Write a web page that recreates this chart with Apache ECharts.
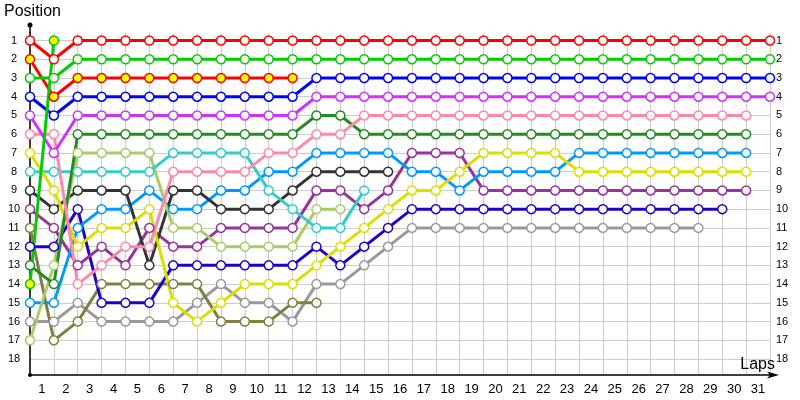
<!DOCTYPE html>
<html>
	<head>
		<meta charset="utf-8">
		<title>Lap chart</title>
		<script src="https://cdn.jsdelivr.net/npm/echarts@6/dist/echarts.min.js" type="text/javascript" charset="utf-8"></script>
		<style>
			html, body { margin: 0; padding: 0; background: #fff; }
		</style>
	</head>
	<body>
		<div id="main" style="width: 800px;height:400px;"></div>
		<script type="text/javascript">
			// lap labels under the x axis (placed between the grid lines)
			var lapLabels = ['1', '2', '3', '4', '5', '6', '7', '8', '9', '10', '11', '12', '13', '14', '15', '16',
				'17', '18', '19', '20', '21', '22', '23', '24', '25', '26', '27', '28', '29', '30', '31'];
			var positionLabels = [1, 2, 3, 4, 5, 6, 7, 8, 9, 10, 11, 12, 13, 14, 15, 16, 17, 18];

			// position of each car after every lap (index 0 = start grid)
			var red = [1, 2, 1, 1, 1, 1, 1, 1, 1, 1, 1, 1, 1, 1, 1, 1, 1, 1, 1, 1, 1, 1, 1, 1, 1, 1, 1, 1, 1, 1, 1, 1];
			var redYellow = [2, 4, 3, 3, 3, 3, 3, 3, 3, 3, 3, 3];
			var green = [3, 3, 2, 2, 2, 2, 2, 2, 2, 2, 2, 2, 2, 2, 2, 2, 2, 2, 2, 2, 2, 2, 2, 2, 2, 2, 2, 2, 2, 2, 2, 2];
			var greenYellow = [14, 1];
			var blue = [4, 5, 4, 4, 4, 4, 4, 4, 4, 4, 4, 4, 3, 3, 3, 3, 3, 3, 3, 3, 3, 3, 3, 3, 3, 3, 3, 3, 3, 3, 3, 3];
			var violet = [5, 7, 5, 5, 5, 5, 5, 5, 5, 5, 5, 5, 4, 4, 4, 4, 4, 4, 4, 4, 4, 4, 4, 4, 4, 4, 4, 4, 4, 4, 4, 4];
			var pink = [6, 6, 14, 13, 12, 12, 8, 8, 8, 8, 7, 7, 6, 6, 5, 5, 5, 5, 5, 5, 5, 5, 5, 5, 5, 5, 5, 5, 5, 5, 5];
			var darkGreen = [13, 14, 6, 6, 6, 6, 6, 6, 6, 6, 6, 6, 5, 5, 6, 6, 6, 6, 6, 6, 6, 6, 6, 6, 6, 6, 6, 6, 6, 6, 6];
			var yellow = [7, 9, 12, 11, 11, 10, 15, 16, 15, 14, 14, 14, 13, 12, 11, 10, 9, 9, 8, 7, 7, 7, 7, 8, 8, 8, 8, 8, 8, 8, 8];
			var cyan = [8, 8, 8, 8, 8, 8, 7, 7, 7, 7, 9, 10, 11, 11, 9];
			var lightGreen = [17, 13, 7, 7, 7, 7, 11, 11, 12, 12, 12, 12, 10, 10];
			var black = [9, 10, 9, 9, 9, 13, 9, 9, 10, 10, 10, 9, 8, 8, 8, 8];
			var skyBlue = [15, 15, 11, 10, 10, 9, 10, 10, 9, 9, 8, 8, 7, 7, 7, 7, 8, 8, 9, 8, 8, 8, 8, 7, 7, 7, 7, 7, 7, 7, 7];
			var purple = [10, 11, 13, 12, 13, 11, 12, 12, 11, 11, 11, 11, 9, 9, 10, 9, 7, 7, 7, 9, 9, 9, 9, 9, 9, 9, 9, 9, 9, 9, 9];
			var navy = [12, 12, 10, 15, 15, 15, 13, 13, 13, 13, 13, 13, 12, 13, 12, 11, 10, 10, 10, 10, 10, 10, 10, 10, 10, 10, 10, 10, 10, 10];
			var olive = [11, 17, 16, 14, 14, 14, 14, 14, 16, 16, 16, 15, 15];
			var gray = [16, 16, 15, 16, 16, 16, 16, 15, 14, 15, 15, 16, 14, 14, 13, 12, 11, 11, 11, 11, 11, 11, 11, 11, 11, 11, 11, 11, 11];

			var cars = [
				{ name: 'gray', data: gray, color: '#999999' },
				{ name: 'olive', data: olive, color: '#808040' },
				{ name: 'navy', data: navy, color: '#2200cc' },
				{ name: 'purple', data: purple, color: '#993399' },
				{ name: 'skyBlue', data: skyBlue, color: '#0099ff' },
				{ name: 'black', data: black, color: '#333333' },
				{ name: 'lightGreen', data: lightGreen, color: '#a8cc66' },
				{ name: 'cyan', data: cyan, color: '#33cccc' },
				{ name: 'yellow', data: yellow, color: '#dddd00' },
				{ name: 'darkGreen', data: darkGreen, color: '#228b22' },
				{ name: 'pink', data: pink, color: '#ff88aa' },
				{ name: 'violet', data: violet, color: '#cc33ff' },
				{ name: 'blue', data: blue, color: '#0000ff' },
				{ name: 'redYellow', data: redYellow, color: '#ff0000', fill: '#ffff00' },
				{ name: 'green', data: green, color: '#00cc00' },
				{ name: 'red', data: red, color: '#ff0000' },
				{ name: 'greenYellow', data: greenYellow, color: '#00cc00', fill: '#ffff00' }
			];

			var gLeft = 30, gTop = 33, gRight = 30, gBottom = 25;
			var axisY = 400 - gBottom, axisEnd = 800 - gRight;
			var font = 'Liberation Sans, Arial, sans-serif';

			var myChart = echarts.init(document.getElementById('main'));

			var series = cars.map(function(c) {
				return {
					name: c.name,
					type: 'line',
					xAxisIndex: 0,
					yAxisIndex: 0,
					data: c.data.map(function(v, i) { return [i, v]; }),
					symbol: 'circle',
					symbolSize: 9,
					showAllSymbol: true,
					lineStyle: { color: c.color, width: 3 },
					itemStyle: { color: c.fill || '#ffffff', borderColor: c.color, borderWidth: 1.5 },
					emphasis: { disabled: true }
				};
			});

			var option = {
				animation: false,
				backgroundColor: '#ffffff',
				title: {
					text: 'Position',
					left: 4,
					top: 4,
					padding: 0,
					textStyle: { fontFamily: font, fontSize: 16, fontWeight: 'normal', color: '#000' }
				},
				grid: { left: gLeft, top: gTop, right: gRight, bottom: gBottom, containLabel: false, outerBoundsMode: 'none' },
				xAxis: [{
					type: 'value',
					min: 0,
					max: 31,
					interval: 1,
					axisLine: { show: true, lineStyle: { color: '#000', width: 1.5 } },
					axisTick: { show: false },
					axisLabel: { show: false },
					splitLine: { show: true, lineStyle: { color: '#cccccc', width: 1 } }
				}, {
					type: 'category',
					position: 'bottom',
					data: lapLabels,
					boundaryGap: true,
					axisLine: { show: false },
					axisTick: { show: false },
					splitLine: { show: false },
					axisLabel: { fontFamily: font, fontSize: 13, color: '#000', margin: 8 }
				}],
				yAxis: [{
					type: 'value',
					inverse: true,
					min: 0.6,
					max: 18.85,
					position: 'left',
					axisLine: { show: true, lineStyle: { color: '#000', width: 1.5 } },
					axisTick: { show: false, customValues: positionLabels },
					axisLabel: { customValues: positionLabels, fontFamily: font, fontSize: 11, color: '#000', align: 'center', margin: 16 },
					splitLine: { show: true, lineStyle: { color: '#cccccc', width: 1 } }
				}, {
					type: 'value',
					inverse: true,
					min: 0.6,
					max: 18.85,
					position: 'right',
					axisLine: { show: false },
					axisTick: { show: false, customValues: positionLabels },
					axisLabel: { customValues: positionLabels, fontFamily: font, fontSize: 11, color: '#000', margin: 6 },
					splitLine: { show: false }
				}],
				graphic: [
					// little extension + dot on top of the position axis, dot at origin
					{ type: 'line', shape: { x1: gLeft, y1: 25, x2: gLeft, y2: gTop }, style: { stroke: '#000', lineWidth: 1.5 }, z: 10 },
					{ type: 'circle', shape: { cx: gLeft, cy: 25, r: 2.5 }, style: { fill: '#000' }, z: 10 },
					{ type: 'circle', shape: { cx: gLeft, cy: axisY, r: 2 }, style: { fill: '#000' }, z: 10 },
					// arrow head at the end of the laps axis
					{ type: 'line', shape: { x1: axisEnd, y1: axisY, x2: axisEnd + 4, y2: axisY }, style: { stroke: '#000', lineWidth: 1.5 }, z: 10 },
					{ type: 'polygon', shape: { points: [[axisEnd - 3, axisY - 3.5], [axisEnd + 9, axisY], [axisEnd - 3, axisY + 3.5], [axisEnd, axisY]] }, style: { fill: '#000' }, z: 10 },
					// x axis title sits above the end of the axis
					{ type: 'text', right: 25, bottom: 27, z: 10, style: { text: 'Laps', font: '16px ' + font, fill: '#000' } }
				],
				series: series
			};

			myChart.setOption(option);
		</script>
	</body>
</html>
